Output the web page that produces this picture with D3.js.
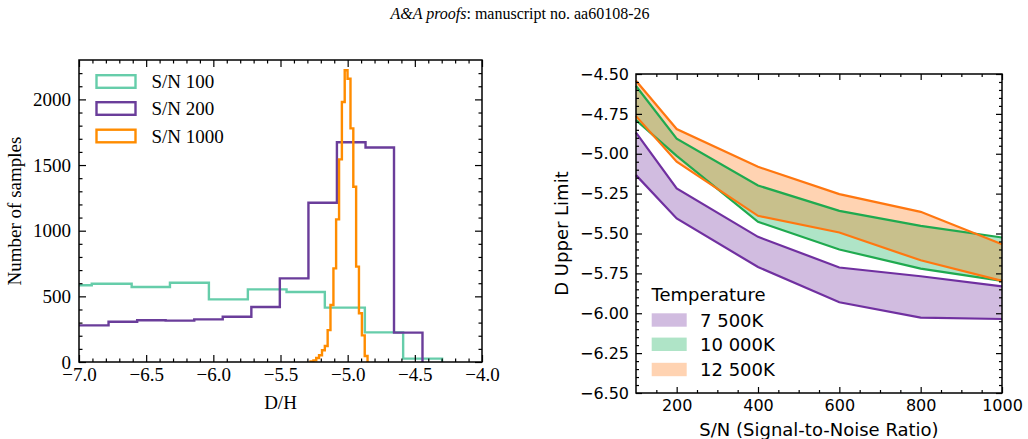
<!DOCTYPE html>
<html>
<head>
<meta charset="utf-8">
<title>D/H histograms and D upper limits</title>
<script src="https://cdn.jsdelivr.net/npm/d3@7"></script>
<style>
  body { margin: 0; background: #fff; }
  .serif text { font-family: "Liberation Serif", "Times New Roman", serif; }
  .sans text { font-family: "DejaVu Sans", sans-serif; }
</style>
</head>
<body>
<svg width="1028" height="439"></svg>
<script>
// ---- left panel: D/H histograms (bin edges + counts) ----
var teal_edges = [-7.195, -6.905, -6.608, -6.323, -6.033, -5.743, -5.455, -5.170, -4.872, -4.587, -4.297];
var teal_counts = [584, 596, 571, 604, 477, 553, 533, 414, 226, 26];

var purple_edges = [-7.205, -6.780, -6.567, -6.355, -6.142, -5.930, -5.717, -5.505, -5.292, -5.080, -4.867, -4.655, -4.443];
var purple_counts = [279, 307, 318, 315, 325, 345, 419, 637, 1213, 1674, 1634, 224];

var orange_edges = [-5.276, -5.255, -5.234, -5.213, -5.191, -5.170, -5.149, -5.128, -5.106, -5.086, -5.064,
                    -5.043, -5.022, -5.001, -4.979, -4.958, -4.937, -4.916, -4.894, -4.873, -4.852];
var orange_counts = [4, 12, 30, 51, 89, 122, 243, 434, 713, 1086, 1543, 1980, 2222, 2157, 1779, 1335, 726, 371, 203, 46];

var hist_labels = ["S/N 100", "S/N 200", "S/N 1000"];
var hist_colors = ["#66cdaa", "#6a3d9a", "#ff8c00"];

// ---- right panel: upper-limit bands per temperature ----
var sn = [100, 200, 400, 600, 800, 1000];
var t7500_hi  = [-4.868, -5.218, -5.521, -5.713, -5.768, -5.831];
var t7500_lo  = [-5.134, -5.406, -5.710, -5.931, -6.027, -6.036];
var t10000_hi = [-4.575, -4.906, -5.199, -5.358, -5.452, -5.525];
var t10000_lo = [-4.789, -5.013, -5.427, -5.600, -5.720, -5.797];
var t12500_hi = [-4.542, -4.845, -5.082, -5.253, -5.364, -5.567];
var t12500_lo = [-4.764, -5.050, -5.389, -5.494, -5.668, -5.797];

var temp_labels = ["7 500K", "10 000K", "12 500K"];
var temp_colors = ["#7030a0", "#1faa4f", "#ff7710"];
var temp_fills = ["#7030a0", "#22b464", "#ff7710"];
var temp_alpha = [0.32, 0.36, 0.32];

var svg = d3.select("svg");
svg.append("rect").attr("width", 1028).attr("height", 439).attr("fill", "#fff");

// header
var head = svg.append("text")
  .attr("x", 520).attr("y", 19)
  .attr("text-anchor", "middle")
  .style("font-family", "Liberation Serif, serif")
  .style("font-size", "16px");
head.append("tspan").style("font-style", "italic").text("A&A proofs");
head.append("tspan").text(": manuscript no. aa60108-26");

// draws inward ticks on all four sides + frame
function frame(g, x, y, opt) {
  var x0 = x.range()[0], x1 = x.range()[1], y0 = y.range()[1], y1 = y.range()[0];
  var defs = [
    [d3.axisBottom, x, y1, opt.xMajor, opt.majorLen, opt.xFmt],
    [d3.axisBottom, x, y1, opt.xMinor, opt.minorLen, null],
    [d3.axisTop, x, y0, opt.xMajor, opt.majorLen, null],
    [d3.axisTop, x, y0, opt.xMinor, opt.minorLen, null]
  ];
  defs.forEach(function(d) {
    var ax = d[0](d[1]).tickValues(d[3]).tickSizeInner(-d[4]).tickSizeOuter(0)
      .tickPadding(opt.xPad).tickFormat(d[5] ? d[5] : "");
    var a = g.append("g").attr("transform", "translate(0," + d[2] + ")").call(ax);
    a.select(".domain").remove();
    a.selectAll("line").attr("stroke", "#000").attr("stroke-width", 1.2);
    a.selectAll("text").attr("fill", "#000").style("font-size", opt.fs + "px");
    a.attr("font-family", null).attr("font-size", null);
  });
  var ydefs = [
    [d3.axisLeft, x0, opt.yMajor, opt.majorLen, opt.yFmt],
    [d3.axisLeft, x0, opt.yMinor, opt.minorLen, null],
    [d3.axisRight, x1, opt.yMajor, opt.majorLen, null],
    [d3.axisRight, x1, opt.yMinor, opt.minorLen, null]
  ];
  ydefs.forEach(function(d) {
    var ax = d[0](y).tickValues(d[2]).tickSizeInner(-d[3]).tickSizeOuter(0)
      .tickPadding(opt.yPad).tickFormat(d[4] ? d[4] : "");
    var a = g.append("g").attr("transform", "translate(" + d[1] + ",0)").call(ax);
    a.select(".domain").remove();
    a.selectAll("line").attr("stroke", "#000").attr("stroke-width", 1.2);
    a.selectAll("text").attr("fill", "#000").style("font-size", opt.fs + "px");
    a.attr("font-family", null).attr("font-size", null);
  });
  g.append("rect").attr("x", x0).attr("y", y0)
    .attr("width", x1 - x0).attr("height", y1 - y0)
    .attr("fill", "none").attr("stroke", "#000").attr("stroke-width", 1.5);
}

// ================= left panel =================
var gl = svg.append("g").attr("class", "serif");
var xL = d3.scaleLinear().domain([-7, -4]).range([79, 482]);
var yL = d3.scaleLinear().domain([0, 2300]).range([362, 60]);

svg.append("clipPath").attr("id", "clipL").append("rect")
  .attr("x", 79).attr("y", 60).attr("width", 403).attr("height", 302);

function stepPath(edges, counts) {
  var p = d3.path();
  p.moveTo(xL(edges[0]), yL(0));
  counts.forEach(function(c, i) {
    p.lineTo(xL(edges[i]), yL(c));
    p.lineTo(xL(edges[i + 1]), yL(c));
  });
  p.lineTo(xL(edges[edges.length - 1]), yL(0));
  return p.toString();
}

var hists = [[teal_edges, teal_counts], [purple_edges, purple_counts], [orange_edges, orange_counts]];
gl.append("g").attr("clip-path", "url(#clipL)")
  .selectAll("path").data(hists).enter().append("path")
  .attr("d", function(d) { return stepPath(d[0], d[1]); })
  .attr("fill", "none")
  .attr("stroke", function(d, i) { return hist_colors[i]; })
  .attr("stroke-width", 2.4)
  .attr("stroke-linejoin", "miter");

frame(gl, xL, yL, {
  xMajor: [-7, -6.5, -6, -5.5, -5, -4.5, -4],
  xMinor: d3.range(-69, -40).filter(function(v) { return v % 5 !== 0; }).map(function(v) { return v / 10; }),
  yMajor: [0, 500, 1000, 1500, 2000],
  yMinor: d3.range(100, 2300, 100).filter(function(v) { return v % 500 !== 0; }),
  xFmt: d3.format(".1f"), yFmt: d3.format("d"),
  majorLen: 7, minorLen: 3.5, xPad: 6, yPad: 8, fs: 19
});

gl.append("text").attr("x", 280.5).attr("y", 409)
  .attr("text-anchor", "middle").style("font-size", "19px").text("D/H");
gl.append("text").attr("transform", "translate(21,211) rotate(-90)")
  .attr("text-anchor", "middle").style("font-size", "19px").text("Number of samples");

var legL = gl.append("g").selectAll("g").data(hist_labels).enter().append("g")
  .attr("transform", function(d, i) { return "translate(0," + [81.5, 108.5, 136][i] + ")"; });
legL.append("rect").attr("x", 96.5).attr("y", -6.3).attr("width", 39).attr("height", 12.6)
  .attr("fill", "none").attr("stroke-width", 2.4)
  .attr("stroke", function(d, i) { return hist_colors[i]; });
legL.append("text").attr("x", 151.5).attr("y", 6.5).style("font-size", "19px").text(function(d) { return d; });

// ================= right panel =================
var gr = svg.append("g").attr("class", "sans");
var xR = d3.scaleLinear().domain([100, 1000]).range([636, 1002]);
var yR = d3.scaleLinear().domain([-6.5, -4.5]).range([393, 74]);

var bands = [[t7500_lo, t7500_hi], [t10000_lo, t10000_hi], [t12500_lo, t12500_hi]];
var area = d3.area()
  .x(function(d) { return xR(d.x); })
  .y0(function(d) { return yR(d.lo); })
  .y1(function(d) { return yR(d.hi); });
var line = d3.line().x(function(d) { return xR(d[0]); }).y(function(d) { return yR(d[1]); });

bands.forEach(function(b, i) {
  var pts = sn.map(function(s, k) { return { x: s, lo: b[0][k], hi: b[1][k] }; });
  gr.append("path").attr("d", area(pts))
    .attr("fill", temp_fills[i]).attr("fill-opacity", temp_alpha[i]).attr("stroke", "none");
});
bands.forEach(function(b, i) {
  [b[0], b[1]].forEach(function(vals) {
    gr.append("path").attr("d", line(sn.map(function(s, k) { return [s, vals[k]]; })))
      .attr("fill", "none").attr("stroke", temp_colors[i]).attr("stroke-width", 2.2);
  });
});

frame(gr, xR, yR, {
  xMajor: [200, 400, 600, 800, 1000],
  xMinor: [150, 250, 300, 350, 450, 500, 550, 650, 700, 750, 850, 900, 950],
  yMajor: [-6.5, -6.25, -6, -5.75, -5.5, -5.25, -5, -4.75, -4.5],
  yMinor: d3.range(-645, -450, 5).filter(function(v) { return v % 25 !== 0; }).map(function(v) { return v / 100; }),
  xFmt: d3.format("d"), yFmt: d3.format(".2f"),
  majorLen: 6, minorLen: 3, xPad: 7, yPad: 7, fs: 16
});

gr.append("text").attr("x", 819).attr("y", 436)
  .attr("text-anchor", "middle").style("font-size", "18px").text("S/N (Signal-to-Noise Ratio)");
gr.append("text").attr("transform", "translate(568,233.5) rotate(-90)")
  .attr("text-anchor", "middle").style("font-size", "18px").text("D Upper Limit");

gr.append("text").attr("x", 651.5).attr("y", 301).style("font-size", "18px").text("Temperature");
var legR = gr.append("g").selectAll("g").data(temp_labels).enter().append("g")
  .attr("transform", function(d, i) { return "translate(0," + [320, 344.3, 369.5][i] + ")"; });
legR.append("rect").attr("x", 651.7).attr("y", -6.7).attr("width", 35).attr("height", 13.4)
  .attr("fill", function(d, i) { return temp_fills[i]; })
  .attr("fill-opacity", function(d, i) { return temp_alpha[i]; });
legR.append("text").attr("x", 700).attr("y", 6.5).style("font-size", "18px").text(function(d) { return d; });
</script>
</body>
</html>
